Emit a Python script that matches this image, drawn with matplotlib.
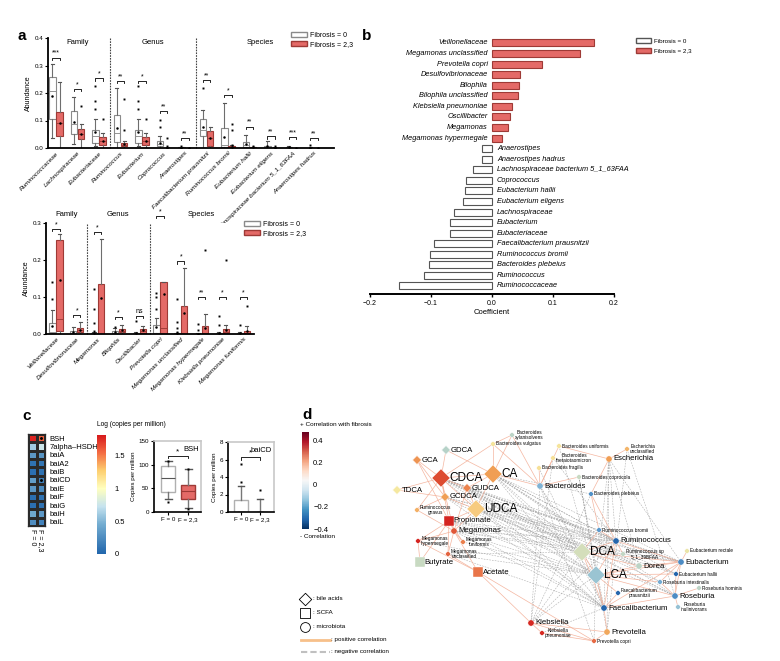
import numpy as np
import matplotlib
matplotlib.use("Agg")
import matplotlib.pyplot as plt
from matplotlib.patches import Patch
from matplotlib.colors import LinearSegmentedColormap, Normalize
from matplotlib.cm import ScalarMappable

plt.rcParams['font.family'] = ['Liberation Sans', 'DejaVu Sans']
plt.rcParams['axes.linewidth'] = 0.8

# ---------------- DATA ----------------
# panel a (top)
top_cats = ["Ruminococcaceae", "Lachnospiraceae", "Eubacteriaceae", "Ruminococcus", "Eubacterium",
            "Coprococcus", "Anaerostipes", "Faecalibacterium prausnitzii", "Ruminococcus bromii",
            "Eubacterium hallii", "Eubacterium eligens", "Lachnospiraceae bacterium 5_1_63FAA",
            "Anaerostipes hadrus"]
top_groups = ["Family", "Genus", "Species"]
top_group_sizes = [3, 4, 6]
top_f0_q1 = [0.106, 0.051, 0.020, 0.022, 0.020, 0.008, 0.0, 0.042, 0.002, 0.004, 0.001, 0.0, 0.0]
top_f0_med = [0.207, 0.088, 0.042, 0.054, 0.042, 0.016, 0.0, 0.066, 0.011, 0.012, 0.003, 0.001, 0.0]
top_f0_q3 = [0.259, 0.133, 0.066, 0.119, 0.066, 0.025, 0.002, 0.106, 0.072, 0.022, 0.008, 0.003, 0.001]
top_f0_lo = [0.037, 0.013, 0.008, 0.0, 0.008, 0.0, 0.0, 0.0, 0.0, 0.0, 0.0, 0.0, 0.0]
top_f0_hi = [0.307, 0.187, 0.105, 0.217, 0.105, 0.042, 0.004, 0.139, 0.165, 0.048, 0.027, 0.006, 0.002]
top_f0_mean = [0.190, 0.094, 0.057, 0.073, 0.057, 0.018, 0.001, 0.078, 0.040, 0.015, 0.006, 0.002, 0.001]
top_f0_fl = [[], [], [0.225, 0.171, 0.143], [], [0.225, 0.171, 0.143], [0.102, 0.078], [0.008],
             [0.219], [], [], [], [], [0.011]]
top_f23_q1 = [0.042, 0.033, 0.012, 0.006, 0.012, 0.0, 0.0, 0.006, 0.0, 0.0, 0.0, 0.0, 0.0]
top_f23_med = [0.090, 0.051, 0.024, 0.012, 0.024, 0.0, 0.0, 0.036, 0.002, 0.001, 0.0, 0.0, 0.0]
top_f23_q3 = [0.130, 0.070, 0.040, 0.019, 0.040, 0.001, 0.0, 0.063, 0.008, 0.003, 0.001, 0.0, 0.0]
top_f23_lo = [0.0] * 13
top_f23_hi = [0.241, 0.089, 0.054, 0.027, 0.054, 0.002, 0.0, 0.076, 0.010, 0.005, 0.002, 0.0, 0.0]
top_f23_mean = [0.092, 0.052, 0.025, 0.015, 0.025, 0.001, 0.0, 0.035, 0.004, 0.002, 0.001, 0.0, 0.0]
top_f23_fl = [[], [0.153], [0.106], [0.177, 0.064], [0.106], [0.036, 0.008], [], [],
              [0.087, 0.064, 0.012], [0.008], [0.006], [], []]
top_sig_h = [0.329, 0.216, 0.253, 0.243, 0.243, 0.136, 0.036, 0.247, 0.193, 0.078, 0.042, 0.040, 0.036]
top_sig = ["***", "*", "*", "**", "*", "**", "**", "**", "*", "**", "**", "***", "**"]

# panel a (bottom)
bot_cats = ["Veillonellaceae", "Desulfovibrionaceae", "Megamonas", "Bilophila", "Oscillibacter",
            "Prevotella copri", "Megamonas unclassified", "Megamonas hypermegale",
            "Klebsiella pneumoniae", "Megamonas funiformis"]
bot_groups = ["Family", "Genus", "Species"]
bot_group_sizes = [2, 3, 5]
bot_f0_q1 = [0.002, 0.002, 0.0, 0.002, 0.001, 0.002, 0.0, 0.0, 0.0, 0.0]
bot_f0_med = [0.0045, 0.004, 0.001, 0.004, 0.002, 0.004, 0.0, 0.0, 0.001, 0.001]
bot_f0_q3 = [0.030, 0.009, 0.004, 0.007, 0.004, 0.025, 0.002, 0.001, 0.003, 0.004]
bot_f0_lo = [0.0] * 10
bot_f0_hi = [0.066, 0.019, 0.006, 0.016, 0.006, 0.043, 0.004, 0.002, 0.005, 0.005]
bot_f0_mean = [0.022, 0.006, 0.003, 0.006, 0.003, 0.020, 0.002, 0.001, 0.002, 0.002]
bot_f0_fl = [[0.140, 0.095], [], [0.122, 0.068, 0.030, 0.009], [0.019], [0.034],
             [0.110, 0.099, 0.067], [0.095, 0.032, 0.017, 0.006], [0.028, 0.012], [0.050, 0.023], [0.025]]
bot_f23_q1 = [0.007, 0.005, 0.0, 0.005, 0.002, 0.001, 0.0, 0.0, 0.002, 0.0]
bot_f23_med = [0.041, 0.010, 0.001, 0.009, 0.008, 0.016, 0.001, 0.002, 0.006, 0.003]
bot_f23_q3 = [0.255, 0.016, 0.136, 0.0135, 0.014, 0.140, 0.075, 0.022, 0.014, 0.009]
bot_f23_lo = [0.0] * 10
bot_f23_hi = [0.271, 0.032, 0.258, 0.025, 0.021, 0.141, 0.178, 0.055, 0.025, 0.021]
bot_f23_mean = [0.145, 0.012, 0.097, 0.010, 0.010, 0.108, 0.058, 0.015, 0.012, 0.008]
bot_f23_fl = [[], [], [], [], [], [], [], [0.228], [0.200], [0.077]]
bot_sig_h = [0.284, 0.052, 0.276, 0.046, 0.050, 0.320, 0.196, 0.100, 0.100, 0.100]
bot_sig = ["*", "*", "*", "*", "ns", "*", "*", "**", "*", "*"]

# panel b
b_taxa = ["Veillonellaceae", "Megamonas unclassified", "Prevotella copri", "Desulfovibrionaceae",
          "Bilophila", "Bilophila unclassified", "Klebsiella pneumoniae", "Oscillibacter",
          "Megamonas", "Megamonas hypermegale", "Anaerostipes", "Anaerostipes hadrus",
          "Lachnospiraceae bacterium 5_1_63FAA", "Coprococcus", "Eubacterium hallii",
          "Eubacterium eligens", "Lachnospiraceae", "Eubacterium", "Eubacteriaceae",
          "Faecalibacterium prausnitzii", "Ruminococcus bromii", "Bacteroides plebeius",
          "Ruminococcus", "Ruminococcaceae"]
b_coef = [0.168, 0.1435, 0.082, 0.046, 0.044, 0.042, 0.033, 0.030, 0.027, 0.017,
          -0.016, -0.017, -0.031, -0.043, -0.045, -0.048, -0.062, -0.069, -0.069,
          -0.095, -0.102, -0.103, -0.111, -0.152]

# panel c heatmap
c_genes = ["BSH", "7alpha\u2013HSDH", "baiA", "baiA2", "baiB", "baiCD", "baiE", "baiF", "baiG", "baiH", "baiL"]
c_cols = ["F = 0", "F = 2,3"]
c_f0 = [1.78, 0.60, 0.32, 0.08, 0.06, 0.36, 0.32, 0.06, 0.06, 0.42, 0.25]
c_f23 = [1.58, 0.76, 0.30, 0.10, 0.08, 0.16, 0.24, 0.08, 0.08, 0.32, 0.18]
c_sig_rows = [0, 5]
# BSH / baiCD boxplots (F = 0, F = 2,3)
bsh_q1 = [42, 28]; bsh_med = [71, 44]; bsh_q3 = [97, 57]; bsh_lo = [28, 9]; bsh_hi = [107, 90]
bsh_fl = [[21, 108], [6, 90]]
bai_q1 = [0, 0]; bai_med = [0, 0]; bai_q3 = [1.33, 0.05]; bai_lo = [0, 0]; bai_hi = [2.97, 1.52]
bai_fl = [[5.45, 3.43], [2.48]]

# panel d network
node_ids = ["CDCA", "CA", "UDCA", "DCA", "LCA", "GDCA", "GCA", "TDCA", "GUDCA", "GCDCA",
            "Prop", "Buty", "Acet", "Mega", "Mhyp", "Mfun", "Muncl", "Rgna", "Bxyl", "Bvul",
            "Buni", "Bthe", "Bfra", "Bcop", "Bact", "Bple", "Eunc", "Esch", "Rbro", "Rumi",
            "Rsp", "Erec", "Dore", "Euba", "Ehal", "Rint", "Rhom", "Fpra", "Rose", "Rinu",
            "Faec", "Kleb", "Kpne", "Prev", "Pcop"]
node_labels = ["CDCA", "CA", "UDCA", "DCA", "LCA", "GDCA", "GCA", "TDCA", "GUDCA", "GCDCA",
               "Propionate", "Butyrate", "Acetate", "Megamonas", "Megamonas\nhypermegale",
               "Megamonas\nfuniformis", "Megamonas\nunclassified", "Ruminococcus\ngnavus",
               "Bacteroides\nxylanisolvens", "Bacteroides vulgatus", "Bacteroides uniformis",
               "Bacteroides\nthetaiotaomicron", "Bacteroides fragilis", "Bacteroides coprocola",
               "Bacteroides", "Bacteroides plebeius", "Escherichia\nunclassified", "Escherichia",
               "Ruminococcus bromii", "Ruminococcus", "Ruminococcus sp\n5_1_39BFAA",
               "Eubacterium rectale", "Dorea", "Eubacterium", "Eubacterium hallii",
               "Roseburia intestinalis", "Roseburia hominis", "Faecalibacterium\nprausnitzii",
               "Roseburia", "Roseburia\ninulinivorans", "Faecalibacterium", "Klebsiella",
               "Klebsiella\npneumoniae", "Prevotella", "Prevotella copri"]
node_x = [441, 493, 476, 582, 596, 446, 417, 397, 467, 445, 449, 420, 478, 454, 418, 463, 448, 417,
          512, 493, 559, 553, 539, 579, 540, 591, 627, 609, 599, 616, 623, 687, 639, 681, 676, 660,
          699, 618, 675, 678, 604, 531, 542, 607, 594]
node_y = [478, 474, 509, 552, 575, 450, 460, 490, 488, 497, 521, 562, 572, 531, 541, 542, 554, 510,
          435, 444, 446, 458, 468, 477, 486, 494, 449, 459, 530, 541, 554, 551, 566, 562, 574, 582,
          588, 593, 596, 607, 608, 623, 633, 632, 641]
node_corr = [0.38, 0.22, 0.12, -0.01, -0.12, -0.06, 0.24, 0.05, 0.28, 0.22, 0.46, -0.03, 0.31,
             0.36, 0.46, 0.29, 0.34, 0.18, -0.05, 0.06, 0.06, 0.07, 0.07, -0.03, -0.18, -0.27,
             0.17, 0.22, -0.25, -0.38, -0.04, 0.03, -0.05, -0.28, -0.38, -0.20, -0.05, -0.38,
             -0.28, -0.13, -0.38, 0.45, 0.45, 0.20, 0.33]
node_kind = ["ba"] * 10 + ["scfa"] * 3 + ["mic"] * 32
node_rank = ["L", "L", "L", "L", "L", "M", "M", "M", "M", "M", "M", "M", "M", "M", "S", "S", "S", "S",
             "S", "S", "S", "S", "S", "S", "M", "S", "S", "M", "S", "M", "S", "S", "M", "M", "S", "S",
             "S", "S", "M", "S", "M", "M", "S", "M", "S"]
pos_edges = [("GDCA", "CDCA"), ("GDCA", "CA"), ("GCA", "CDCA"), ("GCA", "GCDCA"), ("TDCA", "CDCA"),
             ("TDCA", "GCDCA"), ("CDCA", "CA"), ("CDCA", "GUDCA"), ("CDCA", "GCDCA"), ("CDCA", "UDCA"),
             ("CDCA", "Prop"), ("CDCA", "Mega"), ("CA", "GUDCA"), ("CA", "UDCA"), ("CA", "Bvul"),
             ("CA", "Bxyl"), ("CDCA", "Bvul"), ("GCDCA", "UDCA"), ("GUDCA", "UDCA"), ("UDCA", "Prop"),
             ("UDCA", "Mega"), ("Rgna", "CDCA"), ("Rgna", "GCDCA"), ("Prop", "Mega"), ("Prop", "Mhyp"),
             ("Prop", "Mfun"), ("Prop", "Muncl"), ("Mega", "Mhyp"), ("Mega", "Muncl"), ("Mega", "Mfun"),
             ("Mega", "Acet"), ("Muncl", "Acet"), ("Mhyp", "Acet"), ("Buty", "Prop"), ("Buty", "Mhyp"),
             ("Acet", "Pcop"), ("Acet", "Kleb"), ("Bact", "Bvul"), ("Bact", "Bfra"), ("Bact", "Bthe"),
             ("Bact", "Buni"), ("Bact", "Bxyl"), ("Bact", "CA"), ("Bact", "Bcop"), ("Esch", "Eunc"),
             ("Esch", "Buni"), ("Esch", "Bple"), ("Bple", "Rbro"), ("Bple", "Rumi"), ("Rumi", "Rbro"),
             ("Rumi", "Rsp"), ("Rumi", "Faec"), ("Rumi", "Euba"), ("Euba", "Ehal"), ("Euba", "Erec"),
             ("Euba", "Dore"), ("Euba", "Rose"), ("Euba", "Faec"), ("Euba", "LCA"), ("Euba", "DCA"),
             ("Rose", "Rint"), ("Rose", "Rhom"), ("Rose", "Rinu"), ("Rose", "Faec"), ("Rose", "LCA"),
             ("Faec", "Fpra"), ("Faec", "LCA"), ("Faec", "DCA"), ("Faec", "Prev"), ("Fpra", "LCA"),
             ("Dore", "LCA"), ("Dore", "DCA"), ("Rint", "LCA"), ("Ehal", "LCA"), ("Rbro", "DCA"),
             ("Rumi", "DCA"), ("DCA", "LCA"), ("Kleb", "Kpne"), ("Kleb", "Prev"), ("Kleb", "Pcop"),
             ("Kpne", "Pcop"), ("Prev", "Pcop"), ("Rumi", "LCA"), ("Ehal", "Rose"), ("Rint", "Euba"),
             ("Bvul", "Bxyl"), ("GUDCA", "Mega"), ("GCA", "Prop"), ("Rgna", "Mega")]
neg_edges = [("CDCA", "DCA"), ("CDCA", "LCA"), ("CA", "DCA"), ("CA", "LCA"), ("UDCA", "DCA"),
             ("UDCA", "LCA"), ("GUDCA", "DCA"), ("GUDCA", "LCA"), ("GCDCA", "DCA"), ("GCDCA", "LCA"),
             ("CDCA", "Rumi"), ("CA", "Rumi"), ("CDCA", "Euba"), ("CA", "Euba"), ("UDCA", "Rumi"),
             ("UDCA", "Faec"), ("CDCA", "Faec"), ("GCDCA", "Euba"), ("CA", "Dore"), ("CDCA", "Rose"),
             ("UDCA", "Rose"), ("GUDCA", "Faec"), ("CA", "Bple"), ("CDCA", "Rbro"), ("Mega", "DCA"),
             ("Mega", "LCA"), ("Prop", "LCA"), ("Prop", "DCA"), ("Prop", "Faec"), ("Muncl", "LCA"),
             ("Kleb", "Bact"), ("Kleb", "DCA"), ("Kleb", "LCA"), ("Kleb", "Rumi"), ("Kpne", "Faec"),
             ("Bact", "Faec"), ("Bact", "LCA"), ("Esch", "Rumi"), ("Esch", "Faec"), ("Esch", "LCA"),
             ("Esch", "Euba"), ("Bcop", "Faec"), ("Eunc", "Rose"), ("Bact", "Pcop"), ("Bple", "Kleb"),
             ("Pcop", "LCA"), ("GUDCA", "Rumi"), ("UDCA", "Euba"), ("CA", "Rose"), ("GCDCA", "Faec"),
             ("Mega", "Faec"), ("Muncl", "DCA"), ("Bfra", "Faec"), ("Bthe", "Rumi"), ("Esch", "Dore"),
             ("Bcop", "LCA"), ("CDCA", "Dore"), ("UDCA", "Dore"), ("GUDCA", "Euba"), ("GCDCA", "Rumi"),
             ("CA", "Faec"), ("CA", "Ehal"), ("CDCA", "Ehal"), ("UDCA", "Ehal"), ("GUDCA", "Rose"),
             ("CA", "Rint"), ("CDCA", "Rint"), ("Prop", "Rumi"), ("Prop", "Euba"), ("Mega", "Euba"),
             ("Mega", "Rumi"), ("Muncl", "Faec"), ("Mfun", "LCA"), ("Mhyp", "LCA"), ("Buni", "Faec"),
             ("Eunc", "Prev"), ("Esch", "Prev"), ("Bthe", "Kleb"), ("Bcop", "Prev")]

# ---------------- FIGURE ----------------
W, H = 780, 661
fig = plt.figure(figsize=(W / 100, H / 100), dpi=100)


def px_axes(x0, y0, x1, y1):
    return fig.add_axes([x0 / W, 1 - y1 / H, (x1 - x0) / W, (y1 - y0) / H])


RED = '#e46a67'
RED_EDGE = '#9e3a36'
WEDGE = '#8a8a8a'


def stats_list(q1, med, q3, lo, hi, mean, fl):
    return [dict(q1=q1[i], med=med[i], q3=q3[i], whislo=lo[i], whishi=hi[i], mean=mean[i],
                 fliers=fl[i]) for i in range(len(q1))]


def draw_boxes(ax, s0, s1, offs, width, lw=0.8, msize=1.4):
    n = len(s0)
    for st, face, edge, sh in ((s0, 'white', WEDGE, -offs), (s1, RED, RED_EDGE, offs)):
        ax.bxp(st, positions=np.arange(n) + sh, widths=width, patch_artist=True, showmeans=True,
               boxprops=dict(facecolor=face, edgecolor=edge, linewidth=lw),
               medianprops=dict(color=edge, linewidth=lw * 0.8),
               whiskerprops=dict(color='#6e6e6e', linewidth=lw),
               capprops=dict(color='#555555', linewidth=lw),
               meanprops=dict(marker='.', markerfacecolor='k', markeredgecolor='k', markersize=1.6),
               flierprops=dict(marker='s', markerfacecolor='k', markeredgecolor='none',
                               markersize=msize))


def draw_brackets(ax, xs, heights, stars, offs, tick, fs=5):
    for x, h, s in zip(xs, heights, stars):
        ax.plot([x - offs, x - offs, x + offs, x + offs], [h - tick, h, h, h - tick], color='k',
                lw=0.6, clip_on=False)
        ax.text(x, h + tick * 0.3, s, ha='center', va='bottom', fontsize=fs, clip_on=False)


def style_abund(ax, cats, ymax, yticks):
    ax.set_ylim(0, ymax)
    ax.set_yticks(yticks)
    ax.set_yticklabels([f"{t:.1f}" for t in yticks], fontsize=4.5)
    ax.set_xticks(np.arange(len(cats)))
    ax.set_xticklabels(cats, rotation=45, ha='right', rotation_mode='anchor', fontsize=4.6,
                       style='italic')
    ax.tick_params(axis='x', length=0, pad=2)
    ax.tick_params(axis='y', length=2, width=0.8, pad=1.5)
    for sp in ('top', 'right'):
        ax.spines[sp].set_visible(False)
    for sp in ('left', 'bottom'):
        ax.spines[sp].set_linewidth(1.3)
    ax.set_ylabel('Abundance', fontsize=5, labelpad=2)


def group_layout(ax, sizes, names, ytitle):
    edges = np.cumsum(sizes)[:-1] - 0.5
    for e in edges:
        ax.axvline(e, color='#444444', lw=0.8, ls=(0, (1.5, 1)), clip_on=False)
    starts = np.concatenate([[0], np.cumsum(sizes)[:-1]])
    for s, n, name in zip(starts, sizes, names):
        ax.text(s + (n - 1) / 2, ytitle, name, ha='center', va='center', fontsize=5.5, clip_on=False)


legend_handles = [Patch(facecolor='white', edgecolor=WEDGE, label='Fibrosis = 0'),
                  Patch(facecolor=RED, edgecolor=RED_EDGE, label='Fibrosis = 2,3')]

# ---- panel a top
ax1 = px_axes(48, 38, 334, 148)
draw_boxes(ax1, stats_list(top_f0_q1, top_f0_med, top_f0_q3, top_f0_lo, top_f0_hi, top_f0_mean, top_f0_fl),
           stats_list(top_f23_q1, top_f23_med, top_f23_q3, top_f23_lo, top_f23_hi, top_f23_mean, top_f23_fl),
           offs=0.17, width=0.3)
style_abund(ax1, top_cats, 0.4, [0.0, 0.1, 0.2, 0.3, 0.4])
ax1.set_xlim(-0.37, 12.93)
group_layout(ax1, top_group_sizes, top_groups, 0.382)
draw_brackets(ax1, np.arange(len(top_cats)), top_sig_h, top_sig, 0.17, 0.008)
fig.legend(handles=legend_handles, loc='upper left', bbox_to_anchor=(291 / W, 1 - 32 / H),
           frameon=False, fontsize=5, handlelength=2.3, handleheight=0.8, labelspacing=0.3,
           handletextpad=0.4, borderaxespad=0, borderpad=0)

# ---- panel a bottom
ax2 = px_axes(46, 223, 254, 334)
draw_boxes(ax2, stats_list(bot_f0_q1, bot_f0_med, bot_f0_q3, bot_f0_lo, bot_f0_hi, bot_f0_mean, bot_f0_fl),
           stats_list(bot_f23_q1, bot_f23_med, bot_f23_q3, bot_f23_lo, bot_f23_hi, bot_f23_mean, bot_f23_fl),
           offs=0.17, width=0.3)
style_abund(ax2, bot_cats, 0.3, [0.0, 0.1, 0.2, 0.3])
ax2.set_xlim(-0.48, 9.52)
group_layout(ax2, bot_group_sizes, bot_groups, 0.322)
draw_brackets(ax2, np.arange(len(bot_cats)), bot_sig_h, bot_sig, 0.17, 0.006)
fig.legend(handles=legend_handles, loc='upper left', bbox_to_anchor=(244 / W, 1 - 221 / H),
           frameon=False, fontsize=5, handlelength=2.3, handleheight=0.8, labelspacing=0.3,
           handletextpad=0.4, borderaxespad=0, borderpad=0)

# ---- panel b
axb = px_axes(370, 36, 614, 294)
yb = np.arange(len(b_taxa))
coef = np.array(b_coef)
axb.barh(yb, coef, height=0.66, color=np.where(coef > 0, RED, 'white'),
         edgecolor=np.where(coef > 0, RED_EDGE, '#555555'), linewidth=0.8)
for y, c, t in zip(yb, coef, b_taxa):
    if c > 0:
        axb.text(-0.007, y, t, ha='right', va='center', fontsize=5.3, style='italic')
    else:
        axb.text(0.008, y, t, ha='left', va='center', fontsize=5.3, style='italic')
axb.set_xlim(-0.2, 0.2)
axb.set_ylim(len(b_taxa) - 0.24, -0.66)
axb.set_xticks([-0.2, -0.1, 0.0, 0.1, 0.2])
axb.set_xticklabels(['\u22120.2', '\u22120.1', '0.0', '0.1', '0.2'], fontsize=5)
axb.set_yticks([])
for sp in ('top', 'right', 'left'):
    axb.spines[sp].set_visible(False)
axb.spines['bottom'].set_linewidth(1.4)
axb.tick_params(axis='x', length=2.5, width=1, pad=1.5)
axb.set_xlabel('Coefficient', fontsize=5.5, labelpad=2)
fig.legend(handles=[Patch(facecolor='white', edgecolor='#555555', label='Fibrosis = 0'),
                    Patch(facecolor=RED, edgecolor=RED_EDGE, label='Fibrosis = 2,3')],
           loc='upper left', bbox_to_anchor=(636 / W, 1 - 38 / H), frameon=False, fontsize=4.5,
           handlelength=2.4, handleheight=0.9, labelspacing=0.6, handletextpad=0.5,
           borderaxespad=0, borderpad=0)

# ---- panel c heatmap
heat_cmap = LinearSegmentedColormap.from_list('heat', [
    (0.0, '#2166ac'), (0.25, '#74add1'), (0.4, '#c6e3ef'), (0.55, '#ffffbf'),
    (0.7, '#fdcf70'), (0.85, '#f46d43'), (1.0, '#d7191c')])
axh = px_axes(28, 434, 45, 526)
hm = np.column_stack([c_f0, c_f23])
mesh = axh.pcolormesh(np.arange(3), np.arange(len(c_genes) + 1), hm, cmap=heat_cmap, vmin=0,
                      vmax=1.82, edgecolors='#2a2a2a', linewidth=0.8)
axh.set_ylim(len(c_genes), 0)
axh.set_xlim(0, 2)
axh.yaxis.tick_right()
axh.set_yticks(np.arange(len(c_genes)) + 0.5)
axh.set_yticklabels(c_genes, fontsize=5.5)
axh.set_xticks([])
axh.tick_params(axis='y', length=0, pad=3)
for sp in axh.spines.values():
    sp.set_linewidth(0.9)
    sp.set_color('#2a2a2a')
axh.scatter([1.5] * len(c_sig_rows), np.array(c_sig_rows) + 0.5, s=1.2, color='k', zorder=5)
for i, lab in enumerate(c_cols):
    axh.text(i + 0.5, len(c_genes) + 0.35, lab, rotation=270, ha='center', va='top', fontsize=5)

caxc = px_axes(97, 435, 106, 554)
cb = fig.colorbar(mesh, cax=caxc, ticks=[0, 0.5, 1, 1.5])
cb.ax.set_yticklabels(['0', '0.5', '1', '1.5'], fontsize=5.5)
cb.ax.tick_params(length=0, pad=6)
cb.outline.set_visible(False)

# BSH boxplot
axbs = px_axes(154, 441, 201, 512)
for (st, face, edge, p) in ((stats_list(bsh_q1[:1], bsh_med[:1], bsh_q3[:1], bsh_lo[:1], bsh_hi[:1], [None], bsh_fl[:1]), 'white', '#b0b0b0', 0),
                            (stats_list(bsh_q1[1:], bsh_med[1:], bsh_q3[1:], bsh_lo[1:], bsh_hi[1:], [None], bsh_fl[1:]), RED, RED_EDGE, 1)):
    axbs.bxp(st, positions=[p], widths=0.7, patch_artist=True,
             boxprops=dict(facecolor=face, edgecolor=edge, linewidth=1.0),
             medianprops=dict(color='#555555' if p == 0 else RED_EDGE, linewidth=0.8),
             whiskerprops=dict(color='#777777', linewidth=1.0),
             capprops=dict(color='#555555', linewidth=1.0),
             flierprops=dict(marker='s', markerfacecolor='k', markeredgecolor='none', markersize=2))
axbs.set_xlim(-0.7, 1.65)
axbs.set_ylim(0, 150)
axbs.set_yticks([0, 50, 100, 150])
axbs.set_yticklabels(['0', '50', '100', '150'], fontsize=4.5)
axbs.set_xticks([0, 1])
axbs.set_xticklabels(['F = 0', 'F = 2,3'], fontsize=4.5)
axbs.set_ylabel('Copies per million', fontsize=4.5, labelpad=2)
axbs.text(0.96, 0.93, 'BSH', transform=axbs.transAxes, ha='right', va='top', fontsize=5.5)
draw_brackets(axbs, [0.5], [119], ['*'], 0.5, 5, fs=6)

# baiCD boxplot
axbc = px_axes(228, 442, 274, 512)
for (st, face, edge, p) in ((stats_list(bai_q1[:1], bai_med[:1], bai_q3[:1], bai_lo[:1], bai_hi[:1], [None], bai_fl[:1]), 'white', '#b0b0b0', 0),
                            (stats_list(bai_q1[1:], bai_med[1:], bai_q3[1:], bai_lo[1:], bai_hi[1:], [None], bai_fl[1:]), 'white', '#b0b0b0', 1)):
    axbc.bxp(st, positions=[p], widths=0.7, patch_artist=True,
             boxprops=dict(facecolor=face, edgecolor=edge, linewidth=1.0),
             medianprops=dict(color='#999999', linewidth=0.8),
             whiskerprops=dict(color='#777777', linewidth=1.0),
             capprops=dict(color='#555555', linewidth=1.0),
             flierprops=dict(marker='s', markerfacecolor='k', markeredgecolor='none', markersize=2))
axbc.set_xlim(-0.68, 1.74)
axbc.set_ylim(0, 8)
axbc.set_yticks([0, 2, 4, 6, 8])
axbc.set_yticklabels(['0', '2', '4', '6', '8'], fontsize=4.5)
axbc.set_xticks([0, 1])
axbc.set_xticklabels(['F = 0', 'F = 2,3'], fontsize=4.5)
axbc.set_ylabel('Copies per million', fontsize=4.5, labelpad=2)
axbc.text(0.96, 0.93, 'baiCD', transform=axbc.transAxes, ha='right', va='top', fontsize=5.5)
draw_brackets(axbc, [0.5], [6.3], ['*'], 0.5, 0.3, fs=6)

for a in (axbs, axbc):
    for sp in ('top', 'right'):
        a.spines[sp].set_color('#c8c8c8')
        a.spines[sp].set_linewidth(1.2)
    for sp in ('left', 'bottom'):
        a.spines[sp].set_linewidth(1.2)
    a.tick_params(length=2, width=0.8, pad=1.5)

# ---- panel d network
node_cmap = LinearSegmentedColormap.from_list('netcorr', [
    (0.00, '#1f5fa8'), (0.17, '#5a98cc'), (0.28, '#8cbcd8'), (0.36, '#aacccc'),
    (0.43, '#cddcc0'), (0.51, '#f5e8a0'), (0.59, '#f7cc80'), (0.70, '#f0a055'),
    (0.82, '#e87048'), (0.89, '#dc4a30'), (1.00, '#d41c1c')])
norm_d = Normalize(-0.4, 0.48)

axd = px_axes(370, 420, 740, 661)
axd.set_xlim(370, 740)
axd.set_ylim(661, 420)
axd.axis('off')
idx = {n: i for i, n in enumerate(node_ids)}
for a, b in neg_edges:
    axd.plot([node_x[idx[a]], node_x[idx[b]]], [node_y[idx[a]], node_y[idx[b]]], color='#9a9a9a',
             lw=0.4, ls=(0, (3, 2)), alpha=0.8, zorder=1)
for a, b in pos_edges:
    axd.plot([node_x[idx[a]], node_x[idx[b]]], [node_y[idx[a]], node_y[idx[b]]], color='#f3ae96',
             lw=0.5, alpha=0.9, zorder=2)

marker_of = {"ba": "D", "scfa": "s", "mic": "o"}
size_of = {("ba", "L"): 85, ("ba", "M"): 20, ("scfa", "M"): 45, ("mic", "M"): 20, ("mic", "S"): 11}
font_of = {"L": 8.5, "M": 5.6, "S": 3.4}
off_of = {"L": 8.0, "M": 4.6, "S": 3.0}
ncol = node_cmap(norm_d(np.array(node_corr)))
for kind in ("ba", "scfa", "mic"):
    sel = [i for i in range(len(node_ids)) if node_kind[i] == kind]
    axd.scatter([node_x[i] for i in sel], [node_y[i] for i in sel],
                s=[size_of[(kind, node_rank[i])] for i in sel], c=[ncol[i] for i in sel],
                marker=marker_of[kind], edgecolors='white', linewidths=0.3, zorder=3)
for i, lab in enumerate(node_labels):
    axd.text(node_x[i] + off_of[node_rank[i]], node_y[i], lab, fontsize=font_of[node_rank[i]],
             ha='left', va='center', multialignment='center', zorder=4, linespacing=0.95)

caxd = px_axes(302, 432, 309, 529)
cbd = fig.colorbar(ScalarMappable(norm=norm_d, cmap='RdBu_r'), cax=caxd,
                   ticks=[-0.4, -0.2, 0, 0.2, 0.4])
cbd.ax.set_yticklabels(['\u22120.4', '\u22120.2', '0', '0.2', '0.4'], fontsize=5.5)
cbd.ax.tick_params(length=0, pad=3)
cbd.outline.set_visible(False)

# ---- overlay texts / legends
ov = fig.add_axes([0, 0, 1, 1])
ov.set_xlim(0, W)
ov.set_ylim(H, 0)
ov.axis('off')
for t, x, y in (("a", 17, 36), ("b", 362, 36), ("c", 22, 416), ("d", 302, 415)):
    ov.text(x, y, t, fontsize=11, fontweight='bold', ha='left', va='center')
ov.text(97, 428, 'Log (copies per million)', fontsize=4.8, ha='left', va='bottom')
ov.text(300, 427, '+ Correlation with fibrosis', fontsize=4.6, ha='left', va='bottom')
ov.text(300, 536, '- Correlation', fontsize=4.6, ha='left', va='center')
ov.scatter([305], [599], marker='D', s=40, facecolor='white', edgecolor='k', linewidth=0.6)
ov.scatter([305], [613], marker='s', s=50, facecolor='white', edgecolor='k', linewidth=0.6)
ov.scatter([305], [627], marker='o', s=50, facecolor='white', edgecolor='k', linewidth=0.6)
ov.text(313, 599, ': bile acids', fontsize=4.5, va='center')
ov.text(313, 613, ': SCFA', fontsize=4.5, va='center')
ov.text(313, 627, ': microbiota', fontsize=4.5, va='center')
ov.plot([301, 330], [640, 640], color='#f7c08a', lw=2)
ov.plot([301, 330], [652, 652], color='#c0c0c0', lw=1.5, ls=(0, (3, 1.5)))
ov.text(331, 640, ': positive correlation', fontsize=4.5, va='center')
ov.text(331, 652, ': negative correlation', fontsize=4.5, va='center')

fig.savefig('out.png', dpi=100)
